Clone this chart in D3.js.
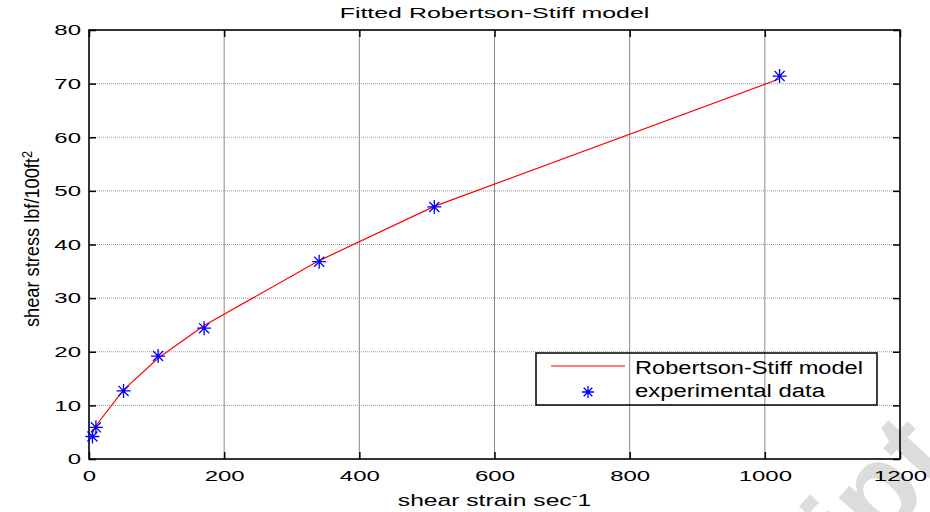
<!DOCTYPE html>
<html>
<head>
<meta charset="utf-8">
<script src="https://cdn.jsdelivr.net/npm/d3@7"></script>
<style>
  body { margin: 0; background: #fff; }
  svg { font-family: "Liberation Sans", Arial, sans-serif; }
</style>
</head>
<body>
<div id="chart"></div>
<script>
// measured points (shear rate 1/s, shear stress lbf/100ft2)
const shearRate = [5.1, 10.2, 51.1, 102.2, 170.3, 340.6, 510.9, 1021.8];
const shearStress = [4.2, 5.9, 12.7, 19.2, 24.4, 36.8, 47.0, 71.4];

// fitted Robertson-Stiff curve
const modelRate = [5.1, 10.2, 51.1, 102.2, 170.3, 340.6, 510.9, 1021.8];
const modelStress = [4.8, 6.2, 12.9, 18.8, 24.9, 37.0, 47.1, 70.9];

const xTicks = [0, 200, 400, 600, 800, 1000, 1200];
const yTicks = [0, 10, 20, 30, 40, 50, 60, 70, 80];

const width = 930, height = 512;
const plotLeft = 89, plotRight = 900, plotTop = 30, plotBottom = 459;
const stretch = 1.6; // the original text is rendered wide

const svg = d3.select('#chart').append('svg')
  .attr('width', width)
  .attr('height', height);

const x = d3.scaleLinear().domain([0, 1200]).range([plotLeft, plotRight]);
const y = d3.scaleLinear().domain([0, 80]).range([plotBottom, plotTop]);

// watermark
svg.append('text')
  .attr('transform', 'translate(956,462) rotate(-48)')
  .attr('text-anchor', 'end')
  .attr('font-size', 120)
  .attr('font-weight', 'bold')
  .attr('fill', '#dcdcdc')
  .text('Accepted Manuscript');

// grid
svg.append('g')
  .selectAll('line')
  .data(xTicks.slice(1, -1))
  .join('line')
  .attr('x1', d => x(d)).attr('x2', d => x(d))
  .attr('y1', plotTop).attr('y2', plotBottom)
  .attr('stroke', '#8a8a8a')
  .attr('stroke-width', 1);

svg.append('g')
  .selectAll('line')
  .data(yTicks.slice(1, -1))
  .join('line')
  .attr('x1', plotLeft).attr('x2', plotRight)
  .attr('y1', d => y(d)).attr('y2', d => y(d))
  .attr('stroke', '#9a9a9a')
  .attr('stroke-width', 1)
  .attr('stroke-dasharray', '1,1');

// axes with inward ticks
const fmt = d3.format('d');
svg.append('g')
  .attr('transform', `translate(0,${plotBottom})`)
  .call(d3.axisBottom(x).tickValues(xTicks).tickFormat(fmt).tickSize(-7).tickPadding(11).tickSizeOuter(0))
  .call(g => g.select('.domain').remove());
svg.append('g')
  .attr('transform', `translate(0,${plotTop})`)
  .call(d3.axisTop(x).tickValues(xTicks).tickSize(-7).tickFormat('').tickSizeOuter(0))
  .call(g => g.select('.domain').remove());
svg.append('g')
  .attr('transform', `translate(${plotLeft},0)`)
  .call(d3.axisLeft(y).tickValues(yTicks).tickFormat(fmt).tickSize(-7).tickPadding(5).tickSizeOuter(0))
  .call(g => g.select('.domain').remove());
svg.append('g')
  .attr('transform', `translate(${plotRight},0)`)
  .call(d3.axisRight(y).tickValues(yTicks).tickSize(-7).tickFormat('').tickSizeOuter(0))
  .call(g => g.select('.domain').remove());

svg.selectAll('.tick text')
  .attr('font-size', 15)
  .attr('font-family', '"Liberation Sans", Arial, sans-serif')
  .attr('fill', '#000')
  .attr('transform', `scale(${stretch},1)`);
svg.selectAll('.tick line').attr('stroke', '#000').attr('stroke-width', 1.5);

svg.append('rect')
  .attr('x', plotLeft).attr('y', plotTop)
  .attr('width', plotRight - plotLeft).attr('height', plotBottom - plotTop)
  .attr('fill', 'none')
  .attr('stroke', '#000')
  .attr('stroke-width', 1.6);

// model line
const line = d3.line().x(d => x(d[0])).y(d => y(d[1]));
svg.append('path')
  .datum(modelRate.map((r, i) => [r, modelStress[i]]))
  .attr('d', line)
  .attr('fill', 'none')
  .attr('stroke', '#ff0000')
  .attr('stroke-width', 1.2);

// asterisk marker
function star(g, cx, cy, r) {
  const d = r * 0.72;
  g.append('path')
    .attr('d', `M${cx - r},${cy}H${cx + r}M${cx},${cy - r}V${cy + r}` +
      `M${cx - d},${cy - d}L${cx + d},${cy + d}M${cx - d},${cy + d}L${cx + d},${cy - d}`)
    .attr('stroke', '#0000ff')
    .attr('stroke-width', 1.3)
    .attr('fill', 'none');
}

const pts = svg.append('g');
shearRate.forEach((r, i) => star(pts, x(r), y(shearStress[i]), 7));

// legend
const lg = svg.append('g');
lg.append('rect')
  .attr('x', 536).attr('y', 353)
  .attr('width', 341).attr('height', 52)
  .attr('fill', 'none')
  .attr('stroke', '#000')
  .attr('stroke-width', 1.5);
lg.append('line')
  .attr('x1', 551).attr('x2', 625)
  .attr('y1', 366).attr('y2', 366)
  .attr('stroke', '#ff0000').attr('stroke-width', 1.2);
star(lg, 588, 392, 6);
lg.append('text')
  .attr('x', 635).attr('y', 374)
  .attr('font-size', 18)
  .attr('textLength', 228)
  .attr('lengthAdjust', 'spacingAndGlyphs')
  .text('Robertson-Stiff model');
lg.append('text')
  .attr('x', 635).attr('y', 397)
  .attr('font-size', 18)
  .attr('textLength', 190)
  .attr('lengthAdjust', 'spacingAndGlyphs')
  .text('experimental data');

// titles
svg.append('text')
  .attr('transform', `translate(${(plotLeft + plotRight) / 2},18) scale(1.78,1)`)
  .attr('text-anchor', 'middle')
  .attr('font-size', 14)
  .text('Fitted Robertson-Stiff model');

const xl = svg.append('text')
  .attr('transform', `translate(${(plotLeft + plotRight) / 2},506) scale(1.45,1)`)
  .attr('text-anchor', 'middle')
  .attr('font-size', 17);
xl.append('tspan').text('shear strain sec');
xl.append('tspan').attr('dy', -6).attr('font-size', 12).text('-');
xl.append('tspan').attr('dy', 6).text('1');

const yl = svg.append('text')
  .attr('transform', `translate(39,239) rotate(-90)`)
  .attr('text-anchor', 'middle')
  .attr('font-size', 20)
  .attr('font-family', '"Liberation Sans Narrow", "Liberation Sans", Arial, sans-serif')
  .attr('textLength', 176)
  .attr('lengthAdjust', 'spacingAndGlyphs');
yl.append('tspan').text('shear stress lbf/100ft');
yl.append('tspan').attr('dy', -7).attr('font-size', 14).text('2');
</script>
</body>
</html>
